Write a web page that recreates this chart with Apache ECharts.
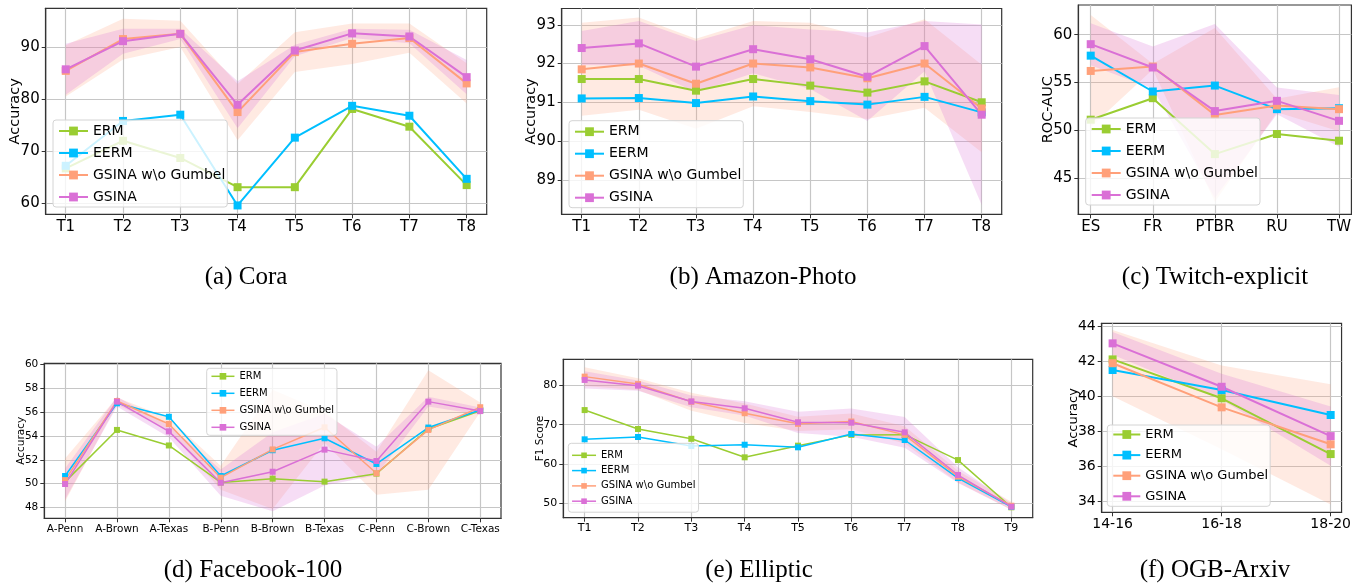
<!DOCTYPE html>
<html><head><meta charset="utf-8">
<script src="https://cdn.jsdelivr.net/npm/echarts@6/dist/echarts.min.js"></script>
<style>html,body{margin:0;padding:0;background:#fff}#c{width:1354px;height:584px}</style>
</head><body><div id="c"></div>
<script>
// ---------- data ----------
const seriesNames = ['ERM', 'EERM', 'GSINA w\\o Gumbel', 'GSINA'];

const coraCats = ['T1','T2','T3','T4','T5','T6','T7','T8'];
const coraYTicks = [60, 70, 80, 90];
const coraERM = [66.7, 72.0, 68.7, 63.1, 63.1, 78.1, 74.7, 63.5];
const coraEERM = [67.2, 75.8, 77.0, 59.6, 72.6, 78.7, 76.8, 64.7];
const coraNoG = [85.4, 91.5, 92.5, 77.5, 89.0, 90.6, 91.7, 83.0];
const coraNoGStd = [4.9, 3.9, 2.5, 5.4, 3.8, 3.9, 2.8, 3.85];
const coraGSINA = [85.7, 91.1, 92.5, 78.9, 89.3, 92.6, 92.0, 84.2];
const coraGSINAStd = [4.9, 2.4, 1.0, 4.5, 1.1, 0.9, 1.3, 3.3];

const amzCats = ['T1','T2','T3','T4','T5','T6','T7','T8'];
const amzYTicks = [89, 90, 91, 92, 93];
const amzERM = [91.6, 91.6, 91.3, 91.6, 91.43, 91.25, 91.54, 91.0];
const amzEERM = [91.1, 91.11, 90.98, 91.15, 91.03, 90.94, 91.14, 90.74];
const amzNoG = [91.85, 92.0, 91.48, 92.0, 91.9, 91.62, 92.0, 90.84];
const amzNoGStd = [1.2, 1.19, 1.16, 1.1, 1.15, 1.05, 1.14, 1.13];
const amzGSINA = [92.40, 92.52, 91.92, 92.37, 92.11, 91.66, 92.45, 90.68];
const amzGSINAStd = [0.44, 0.58, 0.66, 0.62, 0.77, 1.14, 0.65, 2.33];

const twCats = ['ES','FR','PTBR','RU','TW'];
const twYTicks = [45, 50, 55, 60];
const twERM = [51.1, 53.35, 47.5, 49.6, 48.9];
const twEERM = [57.8, 54.05, 54.67, 52.2, 52.3];
const twNoG = [56.2, 56.66, 51.6, 52.58, 52.2];
const twNoGStd = [5.86, 0.3, 9.1, 0.7, 2.3];
const twGSINA = [59.0, 56.56, 52.0, 53.07, 50.98];
const twGSINAStd = [2.2, 2.2, 9.1, 1.4, 2.7];

const fbCats = ['A-Penn','A-Brown','A-Texas','B-Penn','B-Brown','B-Texas','C-Penn','C-Brown','C-Texas'];
const fbYTicks = [48, 50, 52, 54, 56, 58, 60];
const fbERM = [50.15, 54.5, 53.2, 50.1, 50.42, 50.17, 50.84, 54.58, 56.1];
const fbEERM = [50.64, 56.73, 55.6, 50.64, 52.8, 53.8, 51.65, 54.7, 56.17];
const fbNoG = [50.3, 56.92, 55.0, 50.5, 52.87, 54.72, 50.87, 54.5, 56.4];
const fbNoGStd = [1.8, 0.3, 0.5, 1.0, 5.0, 1.3, 1.8, 5.0, 0.4];
const fbGSINA = [49.97, 56.87, 54.38, 50.08, 51.0, 52.85, 51.9, 56.87, 56.08];
const fbGSINAStd = [1.3, 0.4, 0.5, 1.1, 3.3, 3.0, 1.2, 0.4, 0.3];

const elCats = ['T1','T2','T3','T4','T5','T6','T7','T8','T9'];
const elYTicks = [50, 60, 70, 80];
const elERM = [73.7, 68.9, 66.4, 61.7, 64.66, 67.4, 67.46, 61.0, 49.0];
const elEERM = [66.27, 66.86, 64.58, 64.9, 64.24, 67.63, 66.1, 56.44, 49.15];
const elNoG = [82.2, 80.3, 75.8, 72.9, 70.2, 70.8, 67.4, 56.8, 49.4];
const elNoGStd = [2.4, 1.5, 2.3, 2.5, 1.8, 2.0, 2.2, 1.5, 1.0];
const elGSINA = [81.36, 79.9, 75.9, 74.15, 70.6, 70.5, 68.05, 57.2, 49.15];
const elGSINAStd = [2.2, 1.3, 1.5, 1.8, 2.7, 3.6, 3.9, 2.0, 0.8];

const ogCats = ['14-16','16-18','18-20'];
const ogYTicks = [34, 36, 38, 40, 42, 44];
const ogERM = [42.12, 39.89, 36.69];
const ogEERM = [41.51, 40.36, 38.93];
const ogNoG = [41.9, 39.37, 37.25];
const ogNoGStd = [1.9, 2.4, 3.45];
const ogGSINA = [43.04, 40.55, 37.72];
const ogGSINAStd = [0.65, 0.75, 1.7];

const captions = ['(a) Cora', '(b) Amazon-Photo', '(c) Twitch-explicit', '(d) Facebook-100', '(e) Elliptic', '(f) OGB-Arxiv'];
const yNames = ['Accuracy', 'Accuracy', 'ROC-AUC', 'Accuracy', 'F1 Score', 'Accuracy'];

// ---------- style / layout ----------
const FONT = 'DejaVu Sans';
const COLORS = ['#9ACD32', '#00BFFF', '#FFA07A', '#DA70D6'];
const BANDS = ['rgba(255,160,122,0.22)', 'rgba(218,112,214,0.24)'];

const panels = [
  {cats: coraCats, yTicks: coraYTicks, lines: [coraERM, coraEERM, coraNoG, coraGSINA], bands: [[coraNoG, coraNoGStd], [coraGSINA, coraGSINAStd]]},
  {cats: amzCats, yTicks: amzYTicks, lines: [amzERM, amzEERM, amzNoG, amzGSINA], bands: [[amzNoG, amzNoGStd], [amzGSINA, amzGSINAStd]]},
  {cats: twCats, yTicks: twYTicks, lines: [twERM, twEERM, twNoG, twGSINA], bands: [[twNoG, twNoGStd], [twGSINA, twGSINAStd]]},
  {cats: fbCats, yTicks: fbYTicks, lines: [fbERM, fbEERM, fbNoG, fbGSINA], bands: [[fbNoG, fbNoGStd], [fbGSINA, fbGSINAStd]]},
  {cats: elCats, yTicks: elYTicks, lines: [elERM, elEERM, elNoG, elGSINA], bands: [[elNoG, elNoGStd], [elGSINA, elGSINAStd]]},
  {cats: ogCats, yTicks: ogYTicks, lines: [ogERM, ogEERM, ogNoG, ogGSINA], bands: [[ogNoG, ogNoGStd], [ogGSINA, ogGSINAStd]]}
];

const layouts = [
  {l:45.7, t:8.3, r:486.7, b:214.3, yMin:57.9, yMax:97.4, tick:15, name:14.5, gap:23, sym:8, lw:2,
   lg:{left:53, top:120, font:14, gap:8, iw:29, ih:11, pad:[4,2,3,5]}, cap:[246, 277]},
  {l:561.7, t:8.5, r:1001.7, b:214.3, yMin:88.11, yMax:93.42, tick:15, name:14.5, gap:22.5, sym:8, lw:2,
   lg:{left:569, top:120.7, font:14, gap:8, iw:29, ih:11, pad:[4,2,3,5]}, cap:[763, 277]},
  {l:1078.3, t:5, r:1351.7, b:214.3, yMin:41.2, yMax:63.1, tick:15, name:14.5, gap:23, sym:8, lw:2,
   lg:{left:1085.7, top:118, font:14, gap:8, iw:29, ih:11, pad:[4,2,3,5]}, cap:[1215, 277]},
  {l:44.3, t:363.3, r:501, b:518.3, yMin:47.1, yMax:60.08, tick:10.5, name:10.5, gap:17.5, sym:6, lw:1.5,
   lg:{left:206.7, top:368.3, font:10, gap:7, iw:23, ih:8.3, pad:[3,3,3,4]}, cap:[253, 570]},
  {l:563.3, t:359.3, r:1032.7, b:517.7, yMin:46.36, yMax:86.6, tick:11, name:10.5, gap:17.5, sym:6, lw:1.5,
   lg:{left:568.3, top:443.3, font:10, gap:5.3, iw:24, ih:7, pad:[7,3,6,3]}, cap:[759, 570]},
  {l:1101.7, t:323.3, r:1345, b:512.3, yMin:33.35, yMax:44.19, tick:14, name:13, gap:21.5, sym:8, lw:2,
   lg:{left:1107.3, top:425, font:13, gap:7.6, iw:27, ih:11, pad:[3,2,3.5,5]}, cap:[1215, 570]}
];

const AXIS_COLOR = '#333';
const GRID_COLOR = '#c6c6c6';

const grids = [], xAxes = [], yAxes = [], series = [], legends = [], graphics = [];

panels.forEach((p, i) => {
  const L = layouts[i];
  const n = p.cats.length;
  const idx = p.cats.map((_, j) => j);
  const ySpan = p.yTicks[1] - p.yTicks[0];
  grids.push({left: L.l, top: L.t, width: L.r - L.l, height: L.b - L.t, show: true,
    borderColor: AXIS_COLOR, borderWidth: 1.2, backgroundColor: 'transparent'});
  xAxes.push({
    type: 'value', gridIndex: i, min: -0.05 * (n - 1), max: 1.05 * (n - 1),
    minInterval: 1, maxInterval: 1,
    axisLine: {show: true, onZero: false, lineStyle: {color: AXIS_COLOR, width: 1.2}},
    axisTick: {show: true, length: 4, customValues: idx, lineStyle: {color: AXIS_COLOR, width: 1}},
    axisLabel: {show: true, customValues: idx, margin: 5, color: '#000', fontFamily: FONT, fontSize: L.tick,
      formatter: v => (Math.abs(v - Math.round(v)) < 1e-6 && p.cats[Math.round(v)] !== undefined) ? p.cats[Math.round(v)] : ''},
    splitLine: {show: true, lineStyle: {color: GRID_COLOR, width: 1.2}}
  });
  yAxes.push({
    type: 'value', gridIndex: i, min: L.yMin, max: L.yMax,
    minInterval: ySpan, maxInterval: ySpan,
    name: yNames[i], nameLocation: 'middle', nameGap: L.gap, nameMoveOverlap: false,
    nameTextStyle: {fontFamily: FONT, fontSize: L.name, color: '#000'},
    axisLine: {show: true, onZero: false, lineStyle: {color: AXIS_COLOR, width: 1.2}},
    axisTick: {show: true, length: 4, customValues: p.yTicks, lineStyle: {color: AXIS_COLOR, width: 1}},
    axisLabel: {show: true, customValues: p.yTicks, margin: 6, color: '#000', fontFamily: FONT, fontSize: L.tick,
      formatter: v => (p.yTicks.some(t => Math.abs(t - v) < 1e-6)) ? String(v) : ''},
    splitLine: {show: true, lineStyle: {color: GRID_COLOR, width: 1.2}}
  });
  // std bands
  p.bands.forEach(([mean, std], k) => {
    series.push({
      type: 'custom', xAxisIndex: i, yAxisIndex: i, silent: true, z: 1, clip: true,
      data: mean.map((m, j) => [j, m - std[j], m + std[j]]),
      encode: {x: 0, y: [1, 2]},
      renderItem: (params, api) => {
        if (params.dataIndex !== 0) return null;
        const up = [], lo = [];
        for (let j = 0; j < mean.length; j++) {
          up.push(api.coord([j, mean[j] + std[j]]));
          lo.push(api.coord([j, mean[j] - std[j]]));
        }
        return {type: 'polygon', shape: {points: up.concat(lo.reverse())}, style: {fill: BANDS[k]}};
      }
    });
  });
  // lines
  p.lines.forEach((vals, k) => {
    series.push({
      type: 'line', name: seriesNames[k], xAxisIndex: i, yAxisIndex: i, z: 2,
      data: vals.map((v, j) => [j, v]),
      symbol: 'rect', symbolSize: L.sym, showSymbol: true,
      lineStyle: {width: L.lw, color: COLORS[k]}, itemStyle: {color: COLORS[k]},
      emphasis: {disabled: true}, animation: false
    });
  });
  legends.push({
    data: seriesNames, orient: 'vertical', left: L.lg.left, top: L.lg.top,
    padding: L.lg.pad, itemGap: L.lg.gap, itemWidth: L.lg.iw, itemHeight: L.lg.ih,
    textStyle: {fontFamily: FONT, fontSize: L.lg.font, color: '#000'},
    backgroundColor: 'rgba(255,255,255,0.8)', borderColor: '#d4d4d4', borderWidth: 1, borderRadius: 3,
    selectedMode: false, lineStyle: {width: L.lw}
  });
  graphics.push({
    type: 'text', x: L.cap[0], y: L.cap[1], silent: true,
    style: {text: captions[i], font: '25px "Liberation Serif"', fill: '#000',
      textAlign: 'center', textVerticalAlign: 'middle', align: 'center', verticalAlign: 'middle'}
  });
});

const chart = echarts.init(document.getElementById('c'), null, {renderer: 'canvas'});
chart.setOption({
  animation: false,
  backgroundColor: '#fff',
  grid: grids, xAxis: xAxes, yAxis: yAxes, series: series, legend: legends, graphic: graphics
});
</script>
</body></html>
